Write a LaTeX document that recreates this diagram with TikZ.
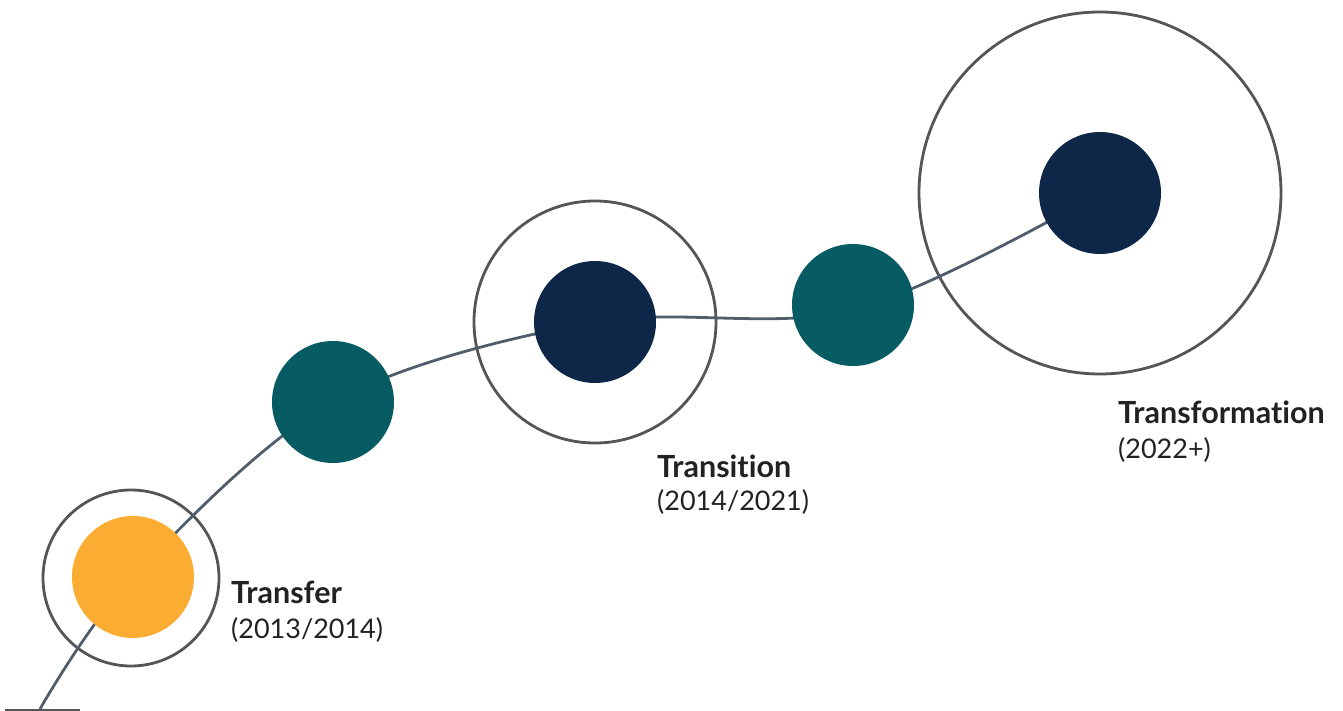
\documentclass[tikz,border=0pt]{standalone}
\usepackage{fontspec}
\setmainfont{Lato}[Ligatures=NoCommon]
\definecolor{orangeC}{HTML}{FBAC33}
\definecolor{tealC}{HTML}{075B63}
\definecolor{navyC}{HTML}{0E2748}
\definecolor{ringC}{HTML}{555555}
\definecolor{pathC}{HTML}{505E6B}
\definecolor{txtC}{HTML}{222222}
\begin{document}
\begin{tikzpicture}[x=1pt,y=-1pt,
  dot/.style={circle,minimum size=122pt,inner sep=0pt},
  ring/.style={circle,draw=ringC,line width=2.8pt,inner sep=0pt},
  ttl/.style={anchor=base west,inner sep=0pt,text=txtC,font=\fontsize{30.5}{34}\selectfont\bfseries},
  yr/.style={anchor=base west,inner sep=0pt,text=txtC,font=\fontsize{27}{30}\selectfont}]
\useasboundingbox (0,0) rectangle (1343,711);
\node[ring,minimum size=176pt] (r1) at (131,578) {};
\node[ring,minimum size=242pt] (r2) at (595,322) {};
\node[ring,minimum size=362pt] (r3) at (1100,193) {};
\coordinate (s) at (40,709);
\coordinate (b1) at (5,710);
\coordinate (b2) at (80,710);
\coordinate (p1) at (133,577);
\coordinate (p2) at (333,402);
\coordinate (p3) at (595,322);
\coordinate (p4) at (853,310);
\coordinate (p5) at (1100,193);
\draw[ringC,line width=2pt] (b1) -- (b2);
\draw[pathC,line width=2.8pt] plot[smooth,tension=0.55] coordinates {(s) (p1) (p2) (p3) (p4) (p5)};
\node[dot,fill=orangeC] (d1) at (p1) {};
\node[dot,fill=tealC] (d2) at (p2) {};
\node[dot,fill=navyC] (d3) at (p3) {};
\node[dot,fill=tealC] (d4) at (853,305) {};
\node[dot,fill=navyC] (d5) at (p5) {};
\node[ttl] (t1) at (231,603) {Transfer};
\node[yr] (y1) at (231,638) {(2013/2014)};
\node[ttl] (t2) at (657,477) {Transition};
\node[yr] (y2) at (657,510) {(2014/2021)};
\node[ttl] (t3) at (1118,423) {Transformation};
\node[yr] (y3) at (1118,458) {(2022+)};
\end{tikzpicture}
\end{document}
